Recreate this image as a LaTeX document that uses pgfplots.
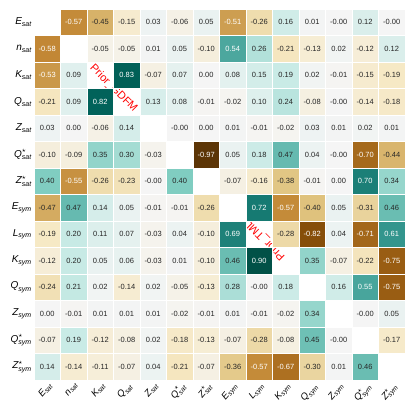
\documentclass[border=0pt]{standalone}
\usepackage{pgfplots}
\pgfplotsset{compat=1.18}
\usepackage{pgfplotstable}
\usepackage{amsmath}
\usepackage{fontspec}
\setmainfont{Liberation Sans}

\newcommand{\lb}[2]{$\text{\itshape #1}_{\text{\itshape #2}}$}
\newcommand{\lbs}[2]{$\text{\itshape #1}^{\star}_{\text{\itshape #2}}$}

% x = column, y = row, v = correlation, w = 1 for white text
\pgfplotstableread{
x y v w
1 0 -0.57 1
2 0 -0.45 0
3 0 -0.15 0
4 0 0.03 0
5 0 -0.06 0
6 0 0.05 0
7 0 -0.51 1
8 0 -0.26 0
9 0 0.16 0
10 0 0.01 0
11 0 -0.00 0
12 0 0.12 0
13 0 -0.00 0
0 1 -0.58 1
2 1 -0.05 0
3 1 -0.05 0
4 1 0.01 0
5 1 0.05 0
6 1 -0.10 0
7 1 0.54 1
8 1 0.26 0
9 1 -0.21 0
10 1 -0.13 0
11 1 0.02 0
12 1 -0.12 0
13 1 0.12 0
0 2 -0.53 1
1 2 0.09 0
3 2 0.83 1
4 2 -0.07 0
5 2 0.07 0
6 2 0.00 0
7 2 0.08 0
8 2 0.15 0
9 2 0.19 0
10 2 0.02 0
11 2 -0.01 0
12 2 -0.15 0
13 2 -0.19 0
0 3 -0.21 0
1 3 0.09 0
2 3 0.82 1
4 3 0.13 0
5 3 0.08 0
6 3 -0.01 0
7 3 -0.02 0
8 3 0.10 0
9 3 0.24 0
10 3 -0.08 0
11 3 -0.00 0
12 3 -0.14 0
13 3 -0.18 0
0 4 0.03 0
1 4 0.00 0
2 4 -0.06 0
3 4 0.14 0
5 4 -0.00 0
6 4 0.00 0
7 4 0.01 0
8 4 -0.01 0
9 4 -0.02 0
10 4 0.03 0
11 4 0.01 0
12 4 0.02 0
13 4 0.01 0
0 5 -0.10 0
1 5 -0.09 0
2 5 0.35 0
3 5 0.30 0
4 5 -0.03 0
6 5 -0.97 1
7 5 0.05 0
8 5 0.18 0
9 5 0.47 0
10 5 0.04 0
11 5 -0.00 0
12 5 -0.70 1
13 5 -0.44 0
0 6 0.40 0
1 6 -0.55 1
2 6 -0.26 0
3 6 -0.23 0
4 6 -0.00 0
5 6 0.40 0
7 6 -0.07 0
8 6 -0.16 0
9 6 -0.38 0
10 6 -0.01 0
11 6 0.00 0
12 6 0.70 1
13 6 0.34 0
0 7 -0.47 0
1 7 0.47 0
2 7 0.14 0
3 7 0.05 0
4 7 -0.01 0
5 7 -0.01 0
6 7 -0.26 0
8 7 0.72 1
9 7 -0.57 1
10 7 -0.40 0
11 7 0.05 0
12 7 -0.31 0
13 7 0.46 0
0 8 -0.19 0
1 8 0.20 0
2 8 0.11 0
3 8 0.07 0
4 8 -0.03 0
5 8 0.04 0
6 8 -0.10 0
7 8 0.69 1
9 8 -0.28 0
10 8 -0.82 1
11 8 0.04 0
12 8 -0.71 1
13 8 0.61 1
0 9 -0.12 0
1 9 0.20 0
2 9 0.05 0
3 9 0.06 0
4 9 -0.03 0
5 9 0.01 0
6 9 -0.10 0
7 9 0.46 0
8 9 0.90 1
10 9 0.35 0
11 9 -0.07 0
12 9 -0.22 0
13 9 -0.75 1
0 10 -0.24 0
1 10 0.21 0
2 10 0.02 0
3 10 -0.14 0
4 10 0.02 0
5 10 -0.05 0
6 10 -0.13 0
7 10 0.28 0
8 10 -0.00 0
9 10 0.18 0
11 10 0.16 0
12 10 0.55 1
13 10 -0.75 1
0 11 0.00 0
1 11 -0.01 0
2 11 0.01 0
3 11 0.01 0
4 11 0.01 0
5 11 -0.02 0
6 11 -0.01 0
7 11 0.01 0
8 11 -0.01 0
9 11 -0.02 0
10 11 0.34 0
12 11 -0.00 0
13 11 0.05 0
0 12 -0.07 0
1 12 0.19 0
2 12 -0.12 0
3 12 -0.08 0
4 12 0.02 0
5 12 -0.18 0
6 12 -0.13 0
7 12 -0.07 0
8 12 -0.28 0
9 12 -0.08 0
10 12 0.45 0
11 12 -0.00 0
13 12 -0.17 0
0 13 0.14 0
1 13 -0.14 0
2 13 -0.11 0
3 13 -0.07 0
4 13 0.04 0
5 13 -0.21 0
6 13 -0.07 0
7 13 -0.36 0
8 13 -0.57 1
9 13 -0.67 1
10 13 -0.30 0
11 13 0.01 0
12 13 0.46 0
}\cells

\begin{document}
\begin{tikzpicture}
\begin{axis}[
    x=26.5pt, y=26.5pt,
    y dir=reverse,
    xmin=-0.5, xmax=13.5, ymin=-0.5, ymax=13.5,
    clip=false,
    axis line style={draw=none},
    tick style={draw=none},
    xtick={0,...,13}, ytick={0,...,13},
    xticklabels={\lb{E}{sat},\lb{n}{sat},\lb{K}{sat},\lb{Q}{sat},\lb{Z}{sat},\lbs{Q}{sat},\lbs{Z}{sat},\lb{E}{sym},\lb{L}{sym},\lb{K}{sym},\lb{Q}{sym},\lb{Z}{sym},\lbs{Q}{sym},\lbs{Z}{sym}},
    yticklabels={\lb{E}{sat},\lb{n}{sat},\lb{K}{sat},\lb{Q}{sat},\lb{Z}{sat},\lbs{Q}{sat},\lbs{Z}{sat},\lb{E}{sym},\lb{L}{sym},\lb{K}{sym},\lb{Q}{sym},\lb{Z}{sym},\lbs{Q}{sym},\lbs{Z}{sym}},
    x tick label style={rotate=50, anchor=north east, font=\fontsize{9.5}{10}\selectfont, inner sep=1pt},
    y tick label style={font=\fontsize{10}{11}\selectfont, inner sep=2pt},
    colormap={brbg}{rgb255=(84,48,5) rgb255=(140,81,10) rgb255=(191,129,45)
        rgb255=(223,194,125) rgb255=(246,232,195) rgb255=(245,245,245)
        rgb255=(199,234,229) rgb255=(128,205,193) rgb255=(53,151,143)
        rgb255=(1,102,94) rgb255=(0,60,48)},
    point meta min=-1, point meta max=1,
    every node near coord/.append style={anchor=center, inner sep=0pt,
        font=\fontsize{7.5}{8}\selectfont},
]
% annotations sit under the cells, showing through the empty diagonal
\node[red, rotate=-45, font=\fontsize{11}{12}\selectfont] at (axis cs:2.5,2.5) {Prior\_GDFM};
\node[red, rotate=135, font=\fontsize{11}{12}\selectfont] at (axis cs:8.22,8.22) {Prior\_TML};

% coloured cells
\addplot[
    scatter, only marks, mark=square*, mark size=13.25pt,
    scatter/use mapped color={draw=white, fill=mapped color},
    line width=0.6pt,
    point meta=\thisrow{v},
] table[x=x, y=y] {\cells};
% dark labels
\addplot[only marks, mark=none, point meta=explicit symbolic,
    nodes near coords, nodes near coords style={text=black!85},
    x filter/.expression={\thisrow{w}>0.5 ? nan : x},
] table[x=x, y=y, meta=v] {\cells};
% light labels
\addplot[only marks, mark=none, point meta=explicit symbolic,
    nodes near coords, nodes near coords style={text=white},
    x filter/.expression={\thisrow{w}>0.5 ? x : nan},
] table[x=x, y=y, meta=v] {\cells};

\path (axis cs:-1.783,-0.84) rectangle (axis cs:13.877,14.82);
\end{axis}
\end{tikzpicture}
\end{document}
